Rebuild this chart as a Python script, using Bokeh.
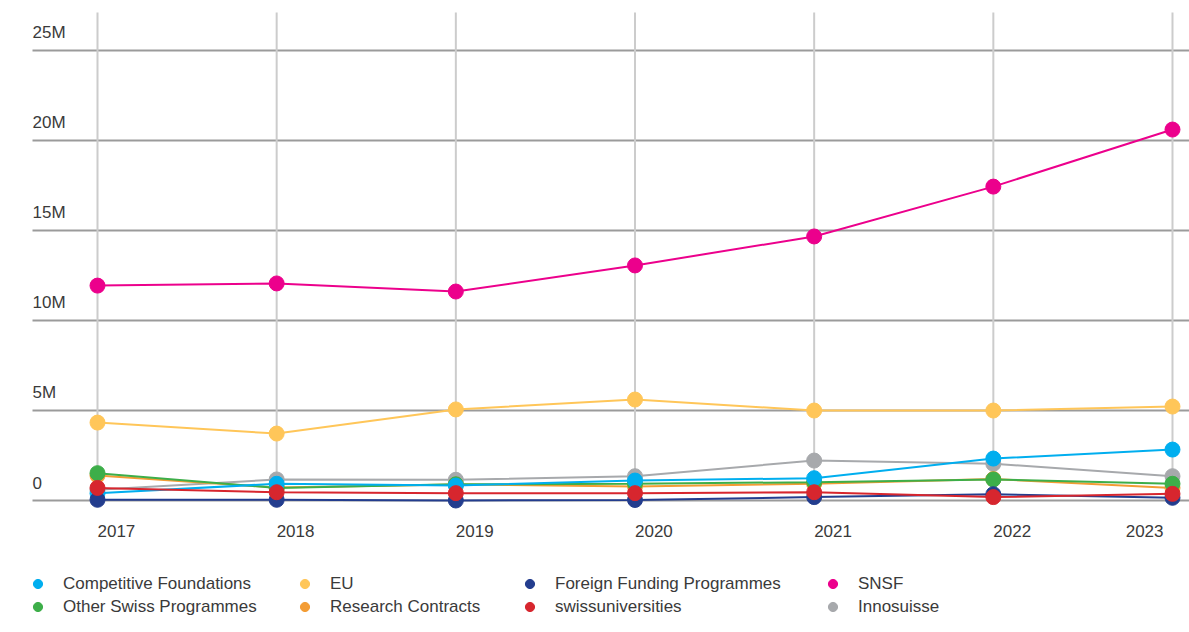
from bokeh.plotting import figure
from bokeh.models import ColumnDataSource, Legend, LegendItem, Range1d
from bokeh.core.properties import value
from bokeh.embed import file_html
from bokeh.resources import INLINE

years = [2017, 2018, 2019, 2020, 2021, 2022, 2023]
year_labels = ["2017", "2018", "2019", "2020", "2021", "2022", "2023"]
y_ticks = [0, 5, 10, 15, 20, 25]
y_tick_labels = ["0", "5M", "10M", "15M", "20M", "25M"]

# values in millions
competitive_foundations = [0.40, 0.93, 0.83, 1.11, 1.24, 2.33, 2.83]
other_swiss_programmes = [1.52, 0.70, 0.90, 0.93, 1.02, 1.17, 0.93]
eu = [4.33, 3.72, 5.06, 5.61, 5.00, 5.00, 5.22]
research_contracts = [1.39, 0.72, 0.89, 0.78, 0.93, 1.19, 0.70]
foreign_funding_programmes = [0.04, 0.04, 0.00, 0.03, 0.19, 0.35, 0.15]
swissuniversities = [0.70, 0.46, 0.41, 0.41, 0.46, 0.19, 0.37]
snsf = [11.94, 12.06, 11.61, 13.06, 14.67, 17.44, 20.61]
innosuisse = [0.60, 1.17, 1.15, 1.35, 2.22, 2.04, 1.35]

series = {
    "Competitive Foundations": (competitive_foundations, "#00AEEF"),
    "Other Swiss Programmes": (other_swiss_programmes, "#3DAE49"),
    "EU": (eu, "#FFC659"),
    "Research Contracts": (research_contracts, "#F39C34"),
    "Foreign Funding Programmes": (foreign_funding_programmes, "#233D8E"),
    "swissuniversities": (swissuniversities, "#D7262E"),
    "SNSF": (snsf, "#EC008C"),
    "Innosuisse": (innosuisse, "#A7A9AC"),
}
legend_columns = [["Competitive Foundations", "Other Swiss Programmes"],
                  ["EU", "Research Contracts"],
                  ["Foreign Funding Programmes", "swissuniversities"],
                  ["SNSF", "Innosuisse"]]
draw_order = ["Innosuisse", "SNSF", "EU", "Research Contracts",
              "Other Swiss Programmes", "Competitive Foundations",
              "Foreign Funding Programmes", "swissuniversities"]

FONT = "Liberation Sans"
TEXT = "#3a3a3a"
FS = "17px"

# ranges (frame covers the whole canvas)
x0, x1 = 2016.4586, 2023.0949
y0, y1 = -7.333, 27.78
grid_x_start = 2016.6372   # where horizontal grid lines and y labels start
grid_y_top = 27.11          # top of vertical grid lines

p = figure(width=1189, height=632, output_backend="svg", toolbar_location=None,
           x_range=Range1d(x0, x1), y_range=Range1d(y0, y1),
           min_border_left=0, min_border_right=0, min_border_top=0,
           min_border_bottom=0)
p.outline_line_color = None
p.xaxis.visible = False
p.yaxis.visible = False
p.xgrid.grid_line_color = None
p.ygrid.grid_line_color = None

# horizontal grid lines
p.segment(x0=[grid_x_start] * len(y_ticks), x1=[x1] * len(y_ticks),
          y0=y_ticks, y1=y_ticks, line_color="#9b9b9b", line_width=2)
# vertical grid lines from 0 to top
p.segment(x0=years, x1=years, y0=[0] * len(years),
          y1=[grid_y_top] * len(years), line_color="#cccccc", line_width=2)

# y labels above grid lines
p.text(x=[grid_x_start] * len(y_ticks), y=y_ticks, text=y_tick_labels,
       text_font=value(FONT), text_font_size=FS, text_color=TEXT,
       text_align="left", text_baseline="alphabetic", x_offset=0, y_offset=-18)

# x labels
p.text(x=years[:-1], y=[0] * (len(years) - 1), text=year_labels[:-1],
       text_align="left", y_offset=30, text_baseline="middle",
       text_font=value(FONT), text_font_size=FS, text_color=TEXT)
p.text(x=years[-1:], y=[0], text=year_labels[-1:],
       text_align="right", x_offset=-9, y_offset=30, text_baseline="middle",
       text_font=value(FONT), text_font_size=FS, text_color=TEXT)

renderers = {}
for name in draw_order:
    vals, col = series[name]
    src = ColumnDataSource(dict(x=years, y=vals))
    p.line("x", "y", source=src, line_color=col, line_width=2)
    r = p.scatter("x", "y", source=src, size=15, fill_color=col, line_color=col)
    renderers[name] = r

col_x = [26, 293, 518, 821]
for cx, names in zip(col_x, legend_columns):
    items = [LegendItem(label=n, renderers=[renderers[n]]) for n in names]
    lg = Legend(items=items, orientation="vertical", location=(cx, 14),
                label_text_font=FONT, label_text_font_size=FS,
                label_text_color=TEXT, glyph_width=23, glyph_height=23,
                label_standoff=14, spacing=0, padding=0, margin=0,
                label_height=20, border_line_color=None,
                background_fill_alpha=0)
    p.add_layout(lg)

open("out.html", "w").write(file_html(p, INLINE))
